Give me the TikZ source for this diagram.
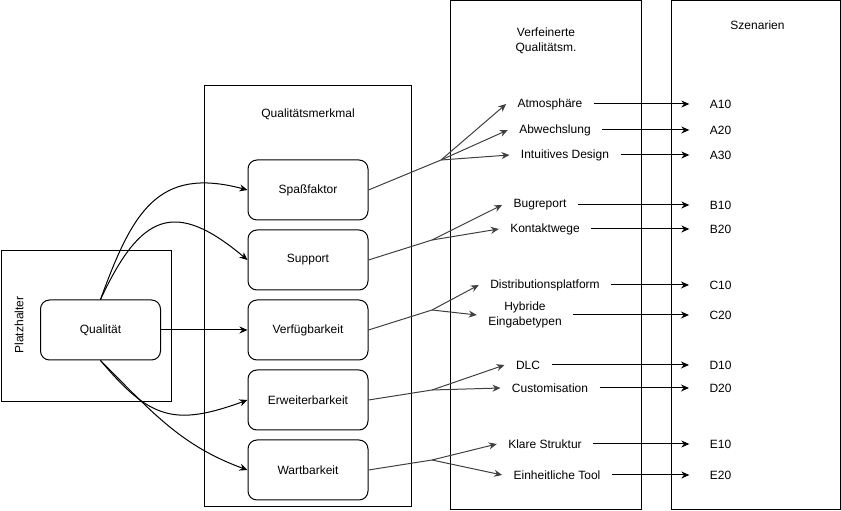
\documentclass[tikz,border=0pt]{standalone}
\usepackage{fontspec}
\setmainfont{Liberation Sans}
\usetikzlibrary{arrows.meta}
\tikzset{>/.tip={Stealth[length=8pt,width=7pt]},
  frame/.style={draw},
  box/.style={draw, rounded corners=9pt, minimum width=120pt, minimum height=60pt},
  lbl/.style={inner xsep=11pt, inner ysep=2pt, align=center},
  scen/.style={inner xsep=20pt},
  branch/.style={draw=black!75}}

\begin{document}
\begin{tikzpicture}[x=1pt, y=1pt, line width=1pt, font=\fontsize{12}{14.5}\selectfont]
\useasboundingbox (0,0) rectangle (841,511);
% frames
\node[frame, minimum width=170pt, minimum height=151pt] (platz) at (86,184.5) {};
\node[rotate=90] (platztitel) at (19,186) {Platzhalter};
\node[frame, minimum width=207pt, minimum height=421pt] (merkmal) at (307.5,214.5) {};
\node (merkmaltitel) at (308,397) {Qualitätsmerkmal};
\node[frame, minimum width=191pt, minimum height=509pt] (verfeinert) at (545.5,255.5) {};
\node[align=center] (verftitel) at (546,470) {Verfeinerte\\Qualitätsm.};
\node[frame, minimum width=169pt, minimum height=509pt] (szenarien) at (755.5,255.5) {};
\node (szentitel) at (757.5,486) {Szenarien};

% quality and its attributes
\node[box] (qual) at (100.5,181) {Qualität};
\node[box] (spass)   at (308,321) {Spaßfaktor};
\node[box] (support) at (308,251) {Support};
\node[box] (verf)    at (308,181) {Verfügbarkeit};
\node[box] (erw)     at (308,111) {Erweiterbarkeit};
\node[box] (wart)    at (308,41)  {Wartbarkeit};

\draw[->] (qual.north) to[out=70,in=165,looseness=1.3] (spass.west);
\draw[->] (qual.north) to[out=65,in=140,looseness=1.6] (support.west);
\draw[->] (qual.east) -- (verf.west);
\draw[->] (qual.south) to[out=-50,in=200,looseness=1.3] (erw.west);
\draw[->] (qual.south) to[out=-45,in=160] (wart.west);

% refined attributes and scenarios
\foreach \n/\x/\y/\t/\s in {atmo/550/407/Atmosphäre/A10, abw/555/381/Abwechslung/A20,
  intui/565/356/Intuitives Design/A30, bug/540/306/Bugreport/B10,
  kontakt/545/282/Kontaktwege/B20, distri/545/226/Distributionsplatform/C10,
  hybrid/525/196/{Hybride\\Eingabetypen}/C20, dlc/528/146/DLC/D10,
  custom/550/123/Customisation/D20, klar/545/67/Klare Struktur/E10,
  einh/557/36/Einheitliche Tool/E20}
{
  \node[lbl] (\n) at (\x,\y) {\t};
  \node[scen] (s\n) at (720.5,\y) {\s};
  \draw[->] (\n) -- (s\n);
}

% branches
\coordinate (j1) at (441,351);
\coordinate (j2) at (432,271);
\coordinate (j3) at (432,201);
\coordinate (j4) at (432,121);
\coordinate (j5) at (432,51);
\foreach \src/\j/\targets in {spass/j1/{atmo,abw,intui}, support/j2/{bug,kontakt},
  verf/j3/{distri,hybrid}, erw/j4/{dlc,custom}, wart/j5/{klar,einh}}
{
  \draw[branch] (\src.east) -- (\j);
  \foreach \t in \targets
  {
    \draw[branch,->] (\j) -- (\t.west);
  }
}
\end{tikzpicture}
\end{document}
